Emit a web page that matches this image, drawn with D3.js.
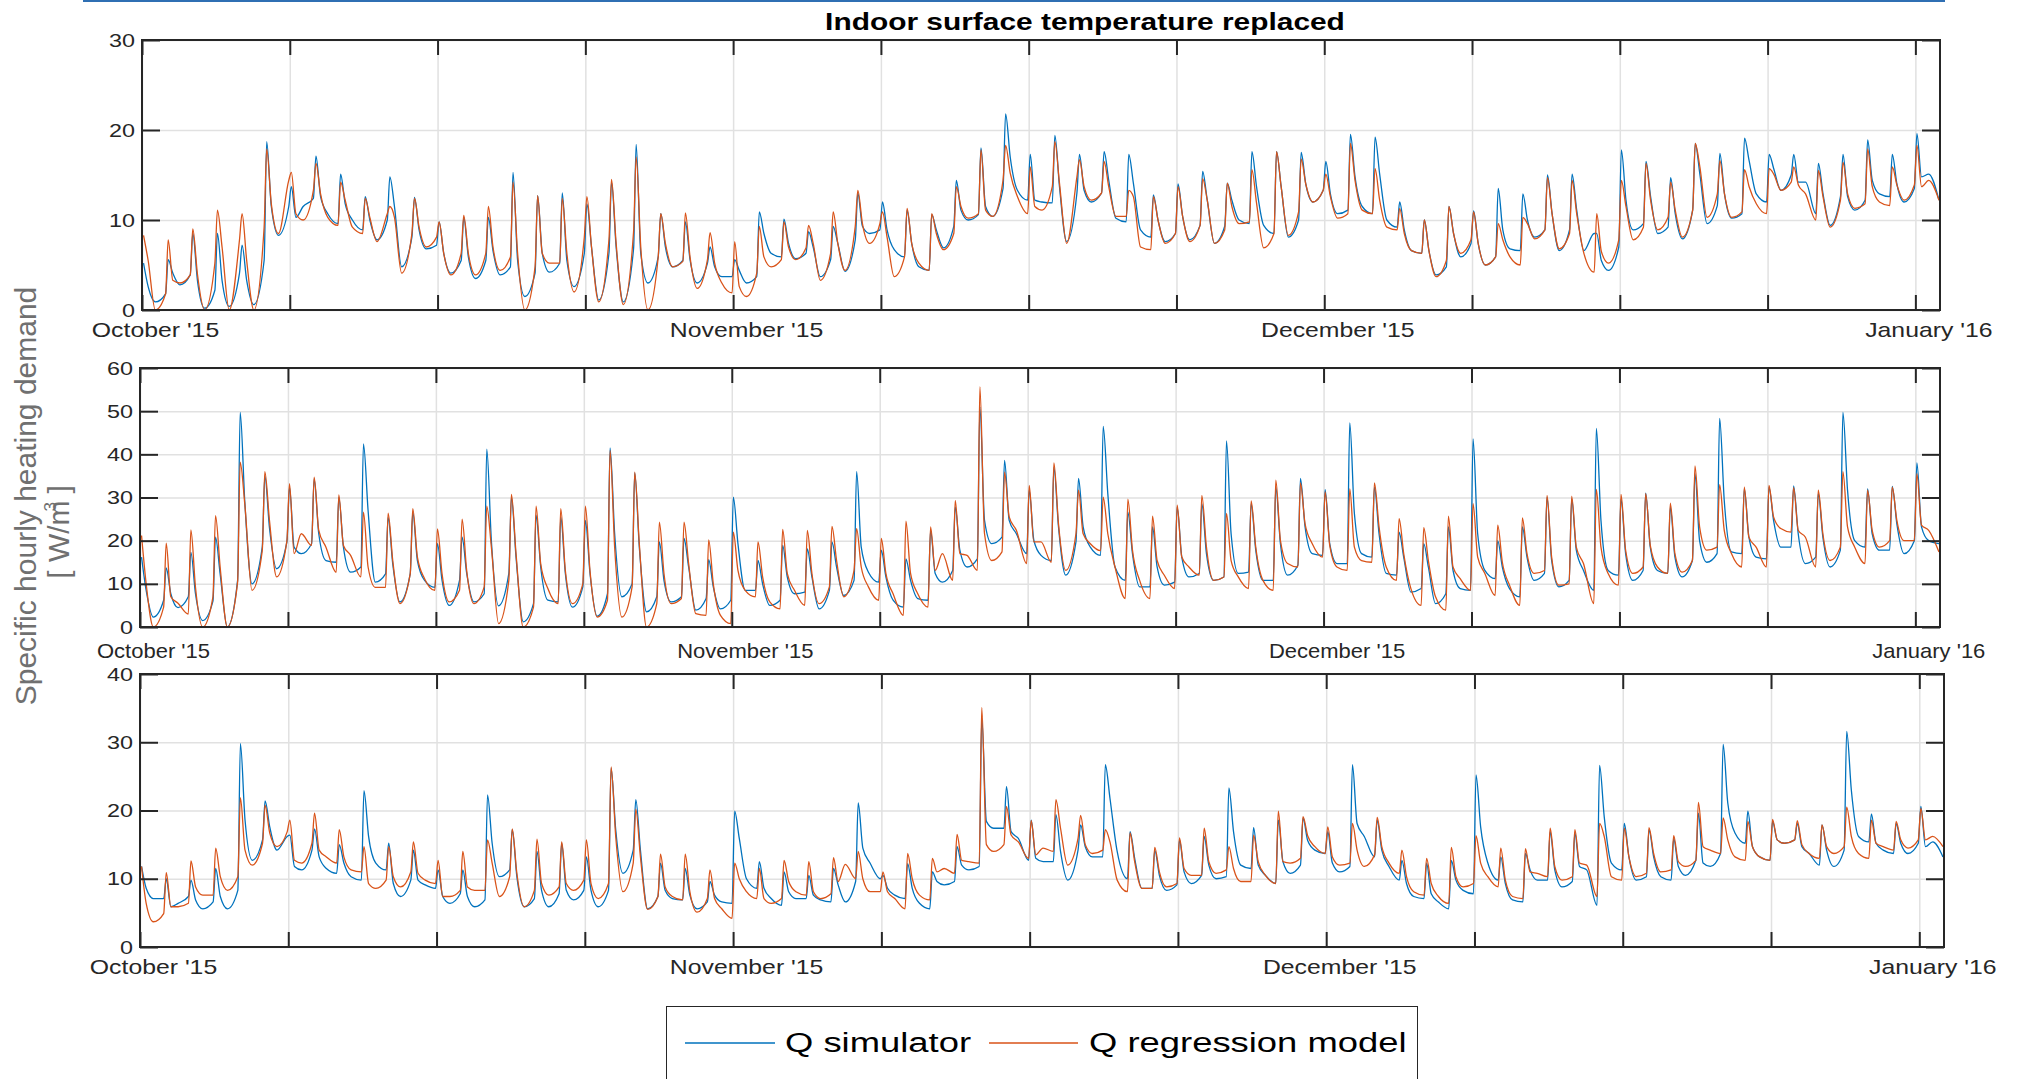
<!DOCTYPE html>
<html>
<head>
<meta charset="utf-8">
<script src="https://cdn.jsdelivr.net/npm/d3@7"></script>
<style>
  body { margin: 0; background: #fff; }
  svg { display: block; }
</style>
</head>
<body>
<svg id="chart"></svg>
<script>
// hourly series, read off the picture as 4 knots per day:
// [morning peak, after peak, mid-day trough, late evening]
const knotHours = [1.5, 6, 13, 23];
const startDate = Date.UTC(2015, 9, 21);
const endDate = Date.UTC(2016, 0, 2);
const tickStepDays = 6;
const monthLabelEvery = 4;

const seriesNames = ["Q simulator", "Q regression model"];
const titleText = "Indoor surface temperature replaced";
const yLabelText = "Specific hourly heating demand";

const yTicks1 = [0, 10, 20, 30];
const yTicks2 = [0, 10, 20, 30, 40, 50, 60];
const yTicks3 = [0, 10, 20, 30, 40];

const panel1Sim = [
  [5.2,2.6,0.9,1.8],[5.6,4.1,2.8,3.9],[8.5,3.3,0.2,2.2],[8.5,3.3,0.4,4.1],[7.2,3.3,0.6,5.5],
  [18.7,11.5,8.3,11.5],[13.7,10.3,11.5,12.4],[17.1,12.6,10.7,9.6],[15.1,11.8,10,8.9],[12.6,10,7.8,10],
  [14.8,11.5,4.8,8.1],[12.5,8.9,6.8,7.2],[9.8,6.3,4.1,5.5],[10.3,5.9,3.5,5.5],[10.3,6.6,3.9,4.8],
  [15.3,5.5,1.5,4.1],[12.7,6.3,4.2,5.2],[13,5.5,2.6,6.3],[11.8,7,1.1,6.3],[14.2,7,0.9,6.8],
  [18.4,6.3,3,5.9],[10.7,7,4.8,5.5],[9.8,5.6,3,5.2],[7,4.8,3.7,3.7],[5.6,4.4,3,3.7],
  [10.9,8.5,6.3,5.9],[10.1,7.4,5.7,6.3],[8.7,7,3.7,5.6],[9.3,7.4,4.3,7.8],[13,9.3,8.5,8.9],
  [12,8.9,6.7,5.9],[11.1,7.4,4.8,4.4],[10.6,8.9,6.9,9.3],[14.4,11.1,10,10.6],[18,11.5,10.4,13.5],
  [21.8,17,13.3,12.2],[17.3,12.2,12,11.9],[19.4,13.7,7.6,13],[17.3,13.3,12,13],[17.6,14.4,10.2,9.8],
  [17.3,14.1,8.9,8.1],[12.8,10,7.6,8.5],[14,10.4,7.8,9.4],[15.4,12.2,7.4,9.3],[14.1,12.2,10,9.6],
  [17.6,13.7,9.4,8.5],[17.6,13.7,8.1,10],[17.5,14,12,13.3],[16.5,12.9,10.7,11.1],[19.5,14.8,11.5,10.7],
  [19.2,15.1,10,9.2],[12,8.9,6.6,6.3],[10,6.6,3.9,4.8],[11.5,8.5,5.9,7.4],[11,7.4,5,5.9],
  [13.5,8.9,6.8,6.6],[12.9,10,8.1,8.9],[15,10.7,6.6,8.9],[15.1,11.1,6.6,8.5],[8.5,5.5,4.4,7],
  [17.8,12.2,8.9,9.6],[16.5,12.6,8.5,9.2],[14.7,10.7,7.9,11.1],[18.5,15.1,9.6,11.6],[17.4,12.9,10.2,10.7],
  [19.1,16.6,12.9,12],[17.3,15.7,13.3,15],[17.3,14.2,14.2,10.7],[16.3,12.9,9.4,12.6],[17.3,12.6,11.1,12.2],
  [18.9,14.4,12.9,12.6],[17.3,14,12,13.5],[19.6,14.8,15.1,12.2]
];
const panel1Reg = [
  [8.3,5.5,0,1.8],[7.8,3.3,3,3.9],[9,4,0,5.2],[11.1,7,0,7.8],[10.7,5.5,0,9.2],
  [17.9,11.8,8.5,14.4],[15.3,10.7,10,13.3],[16.3,12.9,10.3,9.4],[14.2,12.2,9.2,8.5],[12.4,10.3,7.6,10.7],
  [11.5,10.3,4.1,8.5],[12.4,9.2,7,8.1],[9.8,6.3,3.9,6.3],[10.5,6.3,3.9,6.3],[11.5,7,4.4,5.9],
  [14.2,6.3,0,4.8],[12.7,6.3,5.2,5.2],[12.4,6.3,2,8.1],[12.6,7,0.9,7.8],[14.5,7.4,0.6,8.7],
  [17,7,0,5.9],[10.7,7.4,4.8,5.4],[10.8,5.9,2.4,5.6],[8.6,5.2,3,1.9],[7.6,2.6,1.5,4.1],
  [9.3,5.9,4.8,5.6],[9.8,7,5.6,6.9],[9.4,7.4,3.3,6.3],[10.9,7.4,4.4,9.3],[13.3,9.6,7.4,9.6],
  [10.9,8.1,3.7,5.9],[11.3,7.4,5.2,4.4],[10.7,8.5,6.7,8.5],[13.7,11.5,10.2,10.7],[17.8,11.1,10.4,14.4],
  [18.3,15.2,12.6,10.7],[15.9,11.5,11.1,13.7],[18.7,14.1,7.4,14.8],[16.7,13.7,12.2,13],[16.5,13.7,10.4,10.4],
  [13.3,12.6,7,6.7],[12.6,10,7.4,8.5],[13.7,10.4,7.6,9.4],[14.6,12.2,7.4,8.9],[14.1,11.5,9.6,9.8],
  [15.6,11.9,6.9,8.5],[17.6,13.7,8.3,10.9],[16.8,14,12,13.3],[15.1,12.6,10.2,10.7],[18.5,14.4,11.1,10.7],
  [15.7,12.2,9.2,8.9],[11.3,8.5,6.6,6.3],[10,6.6,3.7,5.5],[11.5,8.5,6.3,7.8],[10.9,7.4,5,5.9],
  [9.6,7.8,5.9,5],[10.3,9.6,7.9,8.9],[14.7,10.7,6.8,8.5],[14.4,10.7,6.3,4.2],[10.7,6.5,5.2,7.8],
  [14.4,11.5,7.8,9.2],[16.3,12.2,8.9,10.3],[14.2,11.1,8.1,11.1],[18.5,15.9,10.3,12.9],[16.6,12.9,10.3,10.9],
  [15.6,13.7,11.8,10.7],[15.7,15.1,13.3,14.2],[15.9,13.9,12.9,10],[15.5,12.6,9.2,12.2],[16.4,12.9,11.3,11.8],
  [17.9,13.7,12,11.6],[15.9,13.9,12.2,13.9],[18.3,13.7,14.4,12.2]
];
const panel2Sim = [
  [16.2,8.5,2.3,6.2],[13.7,7.7,4.5,7],[17.3,7.7,1.5,6],[20.8,12.3,0,10.8],[49.7,29,10,18.5],
  [35,23,13.5,19.7],[32.4,18.5,17,19.3],[34.3,21.6,15.4,15],[30,18.5,12.7,13.9],[42.4,27,10.4,12.3],
  [25.4,14.6,5.8,12.3],[26.6,15.4,10.8,9.2],[19.3,10.8,5,10.8],[20.8,12.4,5.8,7.7],[41.2,20,4.9,12.4],
  [30.1,16.2,1.2,5.4],[25.9,13.9,6.2,5.8],[25.5,12.4,4.6,9.3],[24.7,12.4,2.5,7.7],[41.5,21.6,7,10],
  [35.7,18.5,3.5,7],[19.7,10.8,5.8,7],[20.5,13.9,3.9,6.6],[15.6,9.3,4.2,6.2],[30.1,19.3,8.5,8.5],
  [15.4,10,5,6.2],[18.9,11.6,7.7,8.1],[18.1,11.6,4.2,8.5],[19.7,13.9,7.3,10.8],[36,18.5,12.7,10.4],
  [17.8,11.6,6.2,4.6],[15.8,10.8,6.6,6.2],[22.4,12.4,10.4,13.1],[27.8,17.8,13.9,15.8],[51,24.7,19.3,20.8],
  [38.6,24.7,21.6,17],[31.7,20.1,16.6,15.4],[37,23.2,12,19.7],[34.4,23.2,18.5,16.6],[46.5,30.9,13.9,10.8],
  [26.6,17,9.3,9.3],[23.2,13.9,9.7,10.4],[27.8,16.2,11.6,12.4],[28.6,17,10.8,11.6],[43.1,21.6,12.4,12.7],
  [28.6,17.8,10.8,10.8],[32.4,19.3,12,14.3],[34.4,23.2,17,16.6],[31.8,19.3,14.7,14.7],[47.3,26.3,17,16.2],
  [32.4,21.6,12.4,12],[22,16.2,8.1,8.9],[19.3,13.9,5.4,7.7],[23.2,13.1,8.9,8.5],[43.6,21.6,13.1,11.2],
  [20,13.9,8.9,7],[23.2,16.2,10.8,12.4],[30.1,15.4,9.3,10.8],[29.7,17.8,13.1,8.5],[46,24.7,13.1,12],
  [29.7,17,10.8,13.1],[31,18.5,13.1,12.4],[27.8,16.2,11.6,15.4],[35.5,20,15,17],[48.3,29.3,17.4,17],
  [32,20.8,16.2,15.8],[32.4,24.7,18.5,18.5],[32.7,21.6,14.7,16.2],[30.9,20.8,13.9,17.8],[49.7,31.7,20,18.5],
  [32,21.6,17.8,17.8],[32.6,23.9,17,20],[38,23.2,20,19.3]
];
const panel2Reg = [
  [21.2,10,0,4.6],[19.4,7,5.5,3],[22.5,9.2,0,7],[25.8,13.9,0,10.4],[38.2,28.5,8.5,17.7],
  [36,24.7,11.6,20],[33.2,17,21.6,18.9],[34.7,22.4,18.5,12.7],[30.6,18.9,16.6,11.6],[26.6,13.9,9.2,9.2],
  [26.4,15.4,5.4,12.3],[27.4,16.2,11.2,8.5],[22.7,12.3,5.8,8.5],[25,13,5.4,9.3],[28,18.5,0.8,10.8],
  [30.7,17,0,4.6],[28,14.7,8.9,5.4],[27.4,13.1,5.4,10],[28,13,2.3,6.2],[40.9,18.5,2.3,9.3],
  [35.9,19.3,0,5.4],[24.3,12.4,5.4,6.6],[24.3,14.7,3.1,2.7],[20.2,10,2.7,0.8],[22,13.1,8.5,7],
  [19.7,11.6,5.8,4.2],[22.6,12.4,8.5,5],[22.4,12.4,5.4,9.3],[23.3,15.4,7,13.1],[22.8,13.9,9.3,6.2],
  [20.5,12.4,7.7,2.7],[24.5,12.4,7.7,4.6],[23.2,13.1,17,10.8],[29.3,17,16.6,13.1],[55.6,21.6,15.4,17.4],
  [35.9,25.5,22.4,14.7],[32.8,19.7,19.7,15],[38,23.9,13.1,21.6],[31.7,21.6,19.3,17.7],[30.1,21.6,13.9,6.6],
  [29.6,17.8,10.8,6.6],[25.7,15.4,12,8.9],[28.2,16.2,13.9,12],[30.5,18.5,10.8,11.6],[26.3,15.4,11.6,8.9],
  [29.2,18.5,10.8,8.5],[34,20.1,14.7,13.9],[33.4,23.9,19.3,16.2],[31.3,18.9,13.9,13.1],[32,18.5,15.4,15],
  [33.4,23.2,13.9,10.8],[25.1,17,8.9,5],[23,15.4,7,3.9],[25.7,13.9,11.2,8.5],[28.6,16.2,12.4,7.3],
  [23.6,15,9.7,5],[25.3,17,12.4,13.1],[30.5,16.2,9.7,10],[30.3,18.5,14.7,5.4],[31.9,18.5,12.4,9.7],
  [30.7,17.8,12.4,13.9],[30.9,18.9,13.9,12.4],[28.7,17,12.7,15.4],[37.3,23.2,17.8,18.5],[33,22.4,17,13.9],
  [32.4,20.8,18.5,13.9],[32.8,25.5,22.8,22],[32.3,22.4,20.8,13.9],[31.7,21.6,15.4,18.5],[36,23.2,18.5,14.7],
  [31.7,22.4,18.5,20],[32.4,24.7,20,20],[35.5,23.6,22.4,17.4]
];
const panel3Sim = [
  [11.8,8.6,7.1,7.1],[10,5.9,6.4,7.4],[9.8,6.9,5.6,6.6],[11.5,7.4,5.6,8.3],[29.8,18.6,12.7,15.7],
  [21.4,17.6,14.2,16.2],[16.4,11.8,11.3,14.2],[17.3,13.2,11.5,10.8],[15,12.3,10.3,9.8],[22.9,16.2,12.3,11.3],
  [15.2,9.3,7.4,9.8],[14.2,9.8,9.1,8.6],[11.3,7.4,6.4,7.8],[11.3,7.4,5.9,6.9],[22.3,15.2,10.3,11.3],
  [17.2,10.3,5.9,7.1],[14,8.3,5.9,7.8],[15.2,8.3,6.9,8.3],[13.2,8.3,5.9,8.3],[26.2,17.2,10.8,14.2],
  [21.6,14.2,5.6,7.4],[12.3,8.3,7.1,6.9],[11.5,7.6,5.6,6.6],[9.6,7.6,6.6,6.4],[19.9,15.9,10,8.6],
  [12.5,8.6,7.1,6.1],[11,8.1,7.1,7.1],[10.5,7.6,6.9,6.6],[11.5,9.1,6.6,9.6],[21.1,14.5,12.3,10],
  [10.5,8.6,7.6,7.1],[12.2,8.6,6.4,5.6],[11,9.6,9.1,9.6],[14.7,12,11.3,11.8],[33.6,18.4,17.4,17.4],
  [23.5,16.9,15.9,12.7],[18.6,13,12.5,12.5],[19.4,14,9.8,14.2],[17.9,14.7,13.2,13.2],[26.7,21.8,14,10],
  [16.9,13,8.6,8.6],[14.2,10.5,8.3,9.1],[15.7,11,9.3,10.5],[16.2,12,10,10.3],[23.3,16.9,12,11.5],
  [17.5,12,10.5,9.3],[18.6,12.5,10.8,12],[18.9,15.6,14.2,13.7],[16.9,12.3,11,11.8],[26.7,18.1,16.2,13.2],
  [18.6,14.2,11.8,9.8],[12.7,9.3,7.4,7.1],[12.3,7.8,6.6,5.6],[12.7,9.8,8.3,7.8],[25.2,17.6,12.3,9.8],
  [13.2,9.3,6.9,6.6],[13.7,11.3,9.8,9.8],[16.9,11.3,8.8,9.6],[16.7,11.8,11.3,6.1],[26.6,19.1,12.3,11.3],
  [18.1,13.2,9.8,10.3],[17.2,13.2,10.3,9.8],[15.9,11.8,10.5,12.7],[19.6,12.3,11.8,13.7],[29.7,21.1,16.7,15.2],
  [19.9,14.7,13.2,12.7],[18.4,15.7,15.2,15.7],[18.1,14.7,13.7,12],[17.9,14.2,11.8,14.2],[31.6,23,16.2,15.4],
  [19.5,15.2,14.2,13.7],[18.1,15.2,13.7,15.2],[20.6,14.7,15.4,13.2]
];
const panel3Reg = [
  [11.8,6.4,3.7,4.9],[10.9,5.9,5.9,6.4],[12.6,8.8,7.6,7.6],[14.5,10.3,8.3,10.3],[21.9,14.2,12,15.2],
  [20.8,16.7,14.7,16.9],[18.6,12.7,12.3,15.2],[19.6,14.2,13.2,12.3],[17.2,13.2,11.3,11],[14.7,9.3,8.6,9.8],
  [14.7,10.3,8.8,11],[15.4,10.8,9.8,9.3],[12.7,7.4,7.4,8.3],[14,8.8,8.3,8.3],[15.7,12.3,7.4,10.3],
  [17.3,10.8,5.9,8.3],[15.8,9.3,7.6,8.8],[15.4,9.3,8.3,9.8],[15.7,9.3,7.1,9.3],[26.4,16.2,8.1,12.3],
  [20.2,13.2,5.5,7.4],[13.6,8.8,7.4,6.9],[13.6,8.1,5.1,7.1],[11.3,7.1,5.6,4.2],[12.3,10,8.1,7.1],
  [11.5,7.1,6.4,7.1],[12.7,9.6,8.1,7.6],[12.5,8.1,7.1,7.8],[13.1,9.6,12.1,10],[14,10,8.1,8.1],
  [11,8.1,7.1,5.6],[13.7,10,7.6,6.9],[13,11,11.5,10.8],[16.5,12.7,12.5,12.3],[35.1,15,14,15],
  [20.6,16.4,15.4,13],[18.5,13.5,14.5,14],[21.6,17.4,12,15.9],[19.3,15,13.7,14.2],[17.2,15.4,9.8,8.1],
  [16.7,12.5,8.6,8.6],[14.6,11,8.8,9.3],[16,11.5,10.5,10.5],[17.4,12.5,10.8,11.3],[14.7,11.5,9.6,9.6],
  [16.4,12.5,10.5,9.3],[19.9,12.5,12.3,13],[19.1,16.3,14.7,13.7],[17.6,13.2,12,12.3],[18.1,14.2,11.8,13.5],
  [19,14.7,12.3,10.8],[14.2,10.3,8.1,7.6],[13,9.3,7.4,6.4],[14.6,10.3,8.8,9.3],[16.3,12.3,10.3,8.8],
  [14.5,9.8,7.4,7.1],[14.4,11,10.8,10.3],[17.4,11.8,9.8,10.3],[17.2,12.3,12,7.4],[18.1,16.2,10.3,9.8],
  [17.4,13.2,10.3,10.8],[17.5,13.7,11,11.3],[16.3,12.5,11.8,12.7],[21.2,14.7,14.2,13.7],[18.9,15.7,13.2,12.7],
  [18.4,14.7,13.2,12.7],[18.7,15.7,15.2,15.7],[18.5,15,13.7,13],[17.9,14.7,13.7,14.7],[20.5,16.2,13.7,13],
  [18.6,15.2,14.7,14.2],[18.4,15.7,14.5,15.7],[20.3,15.7,16.2,14.7]
];

const W = 2018, H = 1079;
const font = "'Liberation Sans', Arial, Helvetica, sans-serif";
const ink = "#262626";
const gridColor = "#e1e1e1";
const colors = ["#0072BD", "#D95319"];

const svg = d3.select("#chart").attr("width", W).attr("height", H);

// thin blue rule across the very top
svg.append("rect").attr("x", 83).attr("y", 0).attr("width", 1862).attr("height", 2).attr("fill", "#2f6fb3");

const panels = [
  { sim: panel1Sim, reg: panel1Reg, yMax: 30, yTicks: yTicks1, left: 142, right: 1940, top: 40, bottom: 310, labelDy: 27, labelSx: 1.24 },
  { sim: panel2Sim, reg: panel2Reg, yMax: 60, yTicks: yTicks2, left: 140, right: 1940, top: 368, bottom: 627, labelDy: 31, labelSx: 1.1 },
  { sim: panel3Sim, reg: panel3Reg, yMax: 40, yTicks: yTicks3, left: 140, right: 1944, top: 674, bottom: 947, labelDy: 27, labelSx: 1.24 }
];

const tickDates = d3.range(0, (endDate - startDate) / 864e5, tickStepDays).map(d => new Date(startDate + d * 864e5));
const monthFmt = d3.utcFormat("%B '%y");

function toPoints(daily) {
  const pts = [];
  daily.forEach((vals, d) => {
    vals.forEach((v, k) => {
      pts.push({ t: new Date(startDate + (d * 24 + knotHours[k]) * 3600e3), v: v });
    });
  });
  return pts;
}

function styleAxisText(sel) {
  sel.attr("font-family", font).attr("font-size", 19).attr("fill", ink);
}

panels.forEach((p, pi) => {
  const x = d3.scaleUtc().domain([new Date(startDate), new Date(endDate)]).range([p.left, p.right]);
  const y = d3.scaleLinear().domain([0, p.yMax]).range([p.bottom, p.top]);
  const w = p.right - p.left, h = p.bottom - p.top;
  const g = svg.append("g");

  // grid
  g.append("g").attr("transform", `translate(0,${p.bottom})`)
    .call(d3.axisBottom(x).tickValues(tickDates).tickSize(-h).tickFormat(""))
    .call(s => s.select(".domain").remove())
    .selectAll("line").attr("stroke", gridColor).attr("stroke-width", 1.5);
  g.append("g").attr("transform", `translate(${p.left},0)`)
    .call(d3.axisLeft(y).tickValues(p.yTicks).tickSize(-w).tickFormat(""))
    .call(s => s.select(".domain").remove())
    .selectAll("line").attr("stroke", gridColor).attr("stroke-width", 1.5);

  // data
  const clipId = "clip" + pi;
  svg.append("clipPath").attr("id", clipId).append("rect")
    .attr("x", p.left).attr("y", p.top).attr("width", w).attr("height", h);
  const line = d3.line().curve(d3.curveMonotoneX).x(d => x(d.t)).y(d => y(d.v));
  [p.sim, p.reg].forEach((s, si) => {
    g.append("path").datum(toPoints(s))
      .attr("clip-path", `url(#${clipId})`)
      .attr("fill", "none").attr("stroke", colors[si]).attr("stroke-width", 1.3)
      .attr("stroke-linejoin", "round").attr("d", line);
  });

  // box
  g.append("rect").attr("x", p.left).attr("y", p.top).attr("width", w).attr("height", h)
    .attr("fill", "none").attr("stroke", ink).attr("stroke-width", 2);

  // x ticks bottom with month labels
  const gxb = g.append("g").attr("transform", `translate(0,${p.bottom})`)
    .call(d3.axisBottom(x).tickValues(tickDates).tickSizeInner(-15).tickSizeOuter(0)
      .tickFormat((d, i) => i % monthLabelEvery === 0 ? monthFmt(d) : ""));
  gxb.select(".domain").remove();
  gxb.selectAll("line").attr("stroke", ink).attr("stroke-width", 2);
  gxb.selectAll("text").call(styleAxisText).attr("font-size", 20)
    .attr("y", p.labelDy).attr("dy", 0)
    .attr("transform", `translate(13,0) scale(${p.labelSx},1)`);

  // x ticks top
  const gxt = g.append("g").attr("transform", `translate(0,${p.top})`)
    .call(d3.axisTop(x).tickValues(tickDates).tickSizeInner(-15).tickSizeOuter(0).tickFormat(""));
  gxt.select(".domain").remove();
  gxt.selectAll("line").attr("stroke", ink).attr("stroke-width", 2);

  // y ticks left with labels
  const sx = 1.23;
  const gyl = g.append("g").attr("transform", `translate(${p.left},0)`)
    .call(d3.axisLeft(y).tickValues(p.yTicks).tickSizeInner(-18).tickSizeOuter(0).tickPadding(7));
  gyl.select(".domain").remove();
  gyl.selectAll("line").attr("stroke", ink).attr("stroke-width", 2);
  gyl.selectAll("text").call(styleAxisText)
    .attr("x", -7 / sx).attr("transform", `scale(${sx},1)`);

  // y ticks right
  const gyr = g.append("g").attr("transform", `translate(${p.right},0)`)
    .call(d3.axisRight(y).tickValues(p.yTicks).tickSizeInner(-18).tickSizeOuter(0).tickFormat(""));
  gyr.select(".domain").remove();
  gyr.selectAll("line").attr("stroke", ink).attr("stroke-width", 2);
});

// title of the top panel
svg.append("text")
  .attr("transform", "translate(1085,30) scale(1.3,1)")
  .attr("text-anchor", "middle").attr("font-family", font).attr("font-weight", "bold")
  .attr("font-size", 23).attr("fill", "#000").text(titleText);

// shared y label
svg.append("text")
  .attr("transform", "translate(36,496) rotate(-90)")
  .attr("text-anchor", "middle").attr("font-family", font).attr("font-size", 30)
  .attr("fill", "#707070").text(yLabelText);
const unit = svg.append("text")
  .attr("transform", "translate(69,532) rotate(-90)")
  .attr("text-anchor", "middle").attr("font-family", font).attr("font-size", 30)
  .attr("fill", "#707070");
unit.append("tspan").text("[ W/m");
unit.append("tspan").attr("font-size", 17).attr("dx", -11).attr("dy", -13).text("3");
unit.append("tspan").attr("dy", 13).text(" ]");

// legend
const lg = svg.append("g");
lg.append("rect").attr("x", 666.5).attr("y", 1006.5).attr("width", 751).attr("height", 90)
  .attr("fill", "#fff").attr("stroke", ink).attr("stroke-width", 1);
const legendItems = [
  { x0: 685, x1: 775, tx: 785 },
  { x0: 989, x1: 1078, tx: 1089 }
];
legendItems.forEach((it, i) => {
  lg.append("line").attr("x1", it.x0).attr("x2", it.x1).attr("y1", 1043).attr("y2", 1043)
    .attr("stroke", colors[i]).attr("stroke-width", 1.3);
  lg.append("text").attr("transform", `translate(${it.tx},1052) scale(1.3,1)`)
    .attr("font-family", font).attr("font-size", 28).attr("fill", "#000").text(seriesNames[i]);
});
</script>
</body>
</html>
